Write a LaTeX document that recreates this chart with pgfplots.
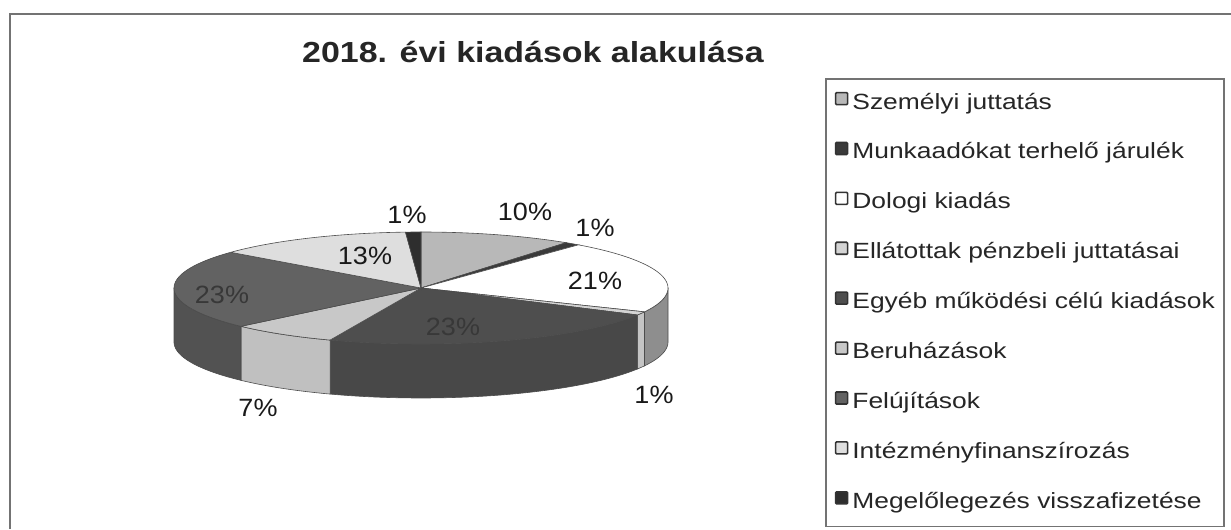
\documentclass[border=0pt]{standalone}
\usepackage{fontspec}
\setmainfont{Liberation Sans}
\newfontfamily\titfont[FakeStretch=1.17]{Liberation Sans}
\newfontfamily\legfont[FakeStretch=1.2]{Liberation Sans}
\newfontfamily\labfont[FakeStretch=1.08]{Liberation Sans}
\usepackage{pgfplots}
\pgfplotsset{compat=1.18}
\usepackage{pgfplotstable}

\definecolor{cSzem}{HTML}{B8B8B8}
\definecolor{cMunk}{HTML}{3A3A3A}
\definecolor{cDolo}{HTML}{FFFFFF}
\definecolor{cEllt}{HTML}{D4D4D4}
\definecolor{cEgye}{HTML}{4E4E4E}
\definecolor{cBeru}{HTML}{C8C8C8}
\definecolor{cFelu}{HTML}{626262}
\definecolor{cInte}{HTML}{DEDEDE}
\definecolor{cMege}{HTML}{2E2E2E}
\definecolor{sDolo}{HTML}{8E8E8E}
\definecolor{sEllt}{HTML}{C4C4C4}
\definecolor{sEgye}{HTML}{484848}
\definecolor{sBeru}{HTML}{C0C0C0}
\definecolor{sFelu}{HTML}{525252}

% percentage labels: x y (pixel positions) and value
\pgfplotstableread{
x y lab
407 314 1
525 317 10
595 301 1
365 273 13
595 248 21
654 134 1
258 121 7
}\labsA
\pgfplotstableread{
x y lab
222 234 23
453 202 23
}\labsB

% slices: start and end in per cent, clockwise from 12 o'clock
\newcommand\pietop[3]{%
  \addplot[fill=#3, draw=black!70, line width=0.6bp, domain=0:1.2, samples=61, variable=\t]
    ({px(\t,3.6*#1,3.6*#2)},{py(\t,3.6*#1,3.6*#2)});}
\newcommand\piewall[3]{%
  \addplot[forget plot, fill=#3, draw=black!70, line width=0.6bp, domain=0:2.02, samples=102, variable=\t]
    ({wx(\t,3.6*#1,3.6*#2)},{wy(\t,3.6*#1,3.6*#2)});}

\begin{document}
\begin{tikzpicture}[declare function={
  px(\t,\a,\b)=ifthenelse(\t<1.01, 421+247*sin(\a+(\b-\a)*\t), ifthenelse(\t<1.15, 421, 421+247*sin(\a)));
  py(\t,\a,\b)=ifthenelse(\t<1.01, 241+56*cos(\a+(\b-\a)*\t), ifthenelse(\t<1.15, 241, 241+56*cos(\a)));
  thw(\t,\a,\b)=ifthenelse(\t<1.01, \a+(\b-\a)*\t, \b-(\b-\a)*min(1,max(0,(\t-1.02)/0.96)));
  wx(\t,\a,\b)=421+247*sin(thw(\t,\a,\b));
  wy(\t,\a,\b)=241+56*cos(thw(\t,\a,\b))-(\t>1.01)*(\t<1.99)*54;
}]
\begin{axis}[
  scale only axis, width=1231bp, height=529bp,
  xmin=0, xmax=1231, ymin=0, ymax=529,
  hide axis,
  title={2018. évi kiadások alakulása},
  title style={at={(533/1231,1-58/529)}, anchor=center,
    font=\titfont\bfseries\fontsize{29bp}{34bp}\selectfont, text=black!85},
  legend style={at={(825/1231,1-78/529)}, anchor=north west, overlay,
    draw=black!55, line width=1.6bp, fill=white,
    font=\legfont\fontsize{22bp}{26bp}\selectfont, text=black!85,
    inner xsep=9bp, inner ysep=13bp, row sep=27.6bp, column sep=4bp,
    nodes={inner sep=0pt, text height=16bp, text depth=5bp}},
  legend cell align=left,
  legend image code/.code={\draw[#1, draw=black!80, line width=1.6bp, rounded corners=1bp] (0bp,-1bp) rectangle (12bp,11bp);},
]
% frame of the chart area
\addplot[forget plot, draw=none] coordinates {(0,0) (1231,529)};
\addplot[forget plot, draw=black!55, line width=2bp] coordinates {(10,0) (10,515) (1231,515)};

% visible side walls (front half)
\piewall{25}{32}{sDolo}
\piewall{32}{33}{sEllt}
\piewall{33}{56}{sEgye}
\piewall{56}{63}{sBeru}
\piewall{63}{75}{sFelu}

% top faces
\pietop{0}{10}{cSzem}
\pietop{10}{11}{cMunk}
\pietop{11}{32}{cDolo}
\pietop{32}{33}{cEllt}
\pietop{33}{56}{cEgye}
\pietop{56}{63}{cBeru}
\pietop{63}{86}{cFelu}
\pietop{86}{99}{cInte}
\pietop{99}{100}{cMege}

\legend{Személyi juttatás, Munkaadókat terhelő járulék, Dologi kiadás,
  Ellátottak pénzbeli juttatásai, Egyéb működési célú kiadások, Beruházások,
  Felújítások, Intézményfinanszírozás, Megelőlegezés visszafizetése}

% labels
\addplot[forget plot, only marks, mark=none, point meta=explicit symbolic,
  nodes near coords={\pgfplotspointmeta\%},
  nodes near coords style={anchor=center, inner sep=0pt, text=black!90,
    font=\labfont\fontsize{25bp}{30bp}\selectfont}]
  table[meta=lab] {\labsA};
\addplot[forget plot, only marks, mark=none, point meta=explicit symbolic,
  nodes near coords={\pgfplotspointmeta\%},
  nodes near coords style={anchor=center, inner sep=0pt, text=black!78,
    font=\labfont\fontsize{25bp}{30bp}\selectfont}]
  table[meta=lab] {\labsB};
\end{axis}
\end{tikzpicture}
\end{document}
